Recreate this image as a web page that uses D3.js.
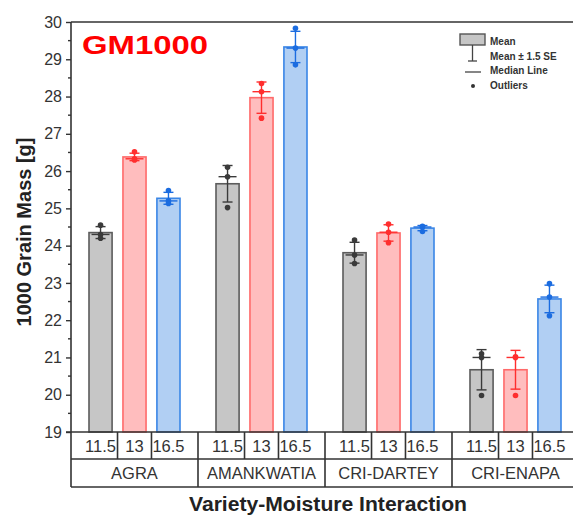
<!DOCTYPE html>
<html>
<head>
<meta charset="utf-8">
<script src="https://cdn.jsdelivr.net/npm/d3@7"></script>
<style>
  body { margin: 0; background: #fff; }
  svg { display: block; font-family: "Liberation Sans", Arial, sans-serif; }
</style>
</head>
<body>
<svg id="chart" width="573" height="517"></svg>
<script>
// data
const varieties = ["AGRA", "AMANKWATIA", "CRI-DARTEY", "CRI-ENAPA"];
const moistures = ["11.5", "13", "16.5"];
const meanValues = [24.35, 26.38, 25.27, 25.66, 27.97, 29.33, 23.81, 24.34, 24.47, 20.67, 20.67, 22.57];
const errValues = [0.16, 0.10, 0.16, 0.49, 0.42, 0.42, 0.28, 0.22, 0.07, 0.54, 0.52, 0.37]; // 1.5 SE
const medianValues = [24.30, 26.33, 25.20, 25.85, 28.13, 29.30, 23.75, 24.36, 24.50, 21.00, 21.00, 22.62];
const pointValues = [
  [24.55, 24.30, 24.20], [26.52, 26.33, 26.30], [25.48, 25.20, 25.13],
  [26.10, 25.85, 25.02], [28.35, 28.13, 27.42], [29.83, 29.30, 28.85],
  [24.15, 23.75, 23.52], [24.58, 24.36, 24.08], [24.52, 24.50, 24.38],
  [21.10, 21.00, 19.98], [21.02, 21.00, 19.98], [22.98, 22.62, 22.12]
];
const yTicks = [19, 20, 21, 22, 23, 24, 25, 26, 27, 28, 29, 30];

const fills = {"11.5": "#c6c6c6", "13": "#ffbdbe", "16.5": "#b1cff3"};
const strokes = {"11.5": "#5c5c5c", "13": "#ff6a6a", "16.5": "#3a86e6"};
const whisk = {"11.5": "#3a3a3a", "13": "#ff2e2e", "16.5": "#1b6ce0"};

const svg = d3.select("#chart");
const plotL = 71, plotR = 579, plotT = 22, plotB = 432;
const row1 = 459, row2 = 487;

const y = d3.scaleLinear().domain([19, 30]).range([plotB, plotT]);
const xGroup = d3.scaleBand().domain(varieties).range([plotL, plotR]).padding(0);
const xInner = d3.scaleBand().domain(moistures).range([0, xGroup.bandwidth()])
  .paddingInner(0.32).paddingOuter(0.53);

const rows = [];
varieties.forEach((v, gi) => moistures.forEach((m, mi) => {
  const k = gi * 3 + mi;
  rows.push({variety: v, moisture: m, mean: meanValues[k], err: errValues[k],
    median: medianValues[k], points: pointValues[k]});
}));
const cx = d => xGroup(d.variety) + xInner(d.moisture) + xInner.bandwidth() / 2;

// bars
svg.append("g").selectAll("rect").data(rows).enter().append("rect")
  .attr("x", d => xGroup(d.variety) + xInner(d.moisture))
  .attr("y", d => y(d.mean))
  .attr("width", xInner.bandwidth())
  .attr("height", d => y(19) - y(d.mean))
  .attr("fill", d => fills[d.moisture])
  .attr("stroke", d => strokes[d.moisture])
  .attr("stroke-width", 1.6);

// whiskers, caps, median, points
const eg = svg.append("g").selectAll("g").data(rows).enter().append("g")
  .attr("stroke", d => whisk[d.moisture]).attr("fill", d => whisk[d.moisture]);
eg.append("line")
  .attr("x1", cx).attr("x2", cx)
  .attr("y1", d => y(d.mean + d.err)).attr("y2", d => y(d.mean - d.err))
  .attr("stroke-width", 1.4);
[1, -1].forEach(s => {
  eg.append("line")
    .attr("x1", d => cx(d) - 5).attr("x2", d => cx(d) + 5)
    .attr("y1", d => y(d.mean + s * d.err)).attr("y2", d => y(d.mean + s * d.err))
    .attr("stroke-width", 1.4);
});
eg.append("line")
  .attr("x1", d => cx(d) - 9).attr("x2", d => cx(d) + 9)
  .attr("y1", d => y(d.median)).attr("y2", d => y(d.median))
  .attr("stroke-width", 1.4);
eg.selectAll("circle").data(d => d.points.map(p => ({p, d}))).enter().append("circle")
  .attr("cx", e => cx(e.d)).attr("cy", e => y(e.p)).attr("r", 2.8).attr("stroke", "none");

// y axis
const axisCol = "#333";
const yAxis = svg.append("g").attr("transform", `translate(${plotL},0)`)
  .call(d3.axisLeft(y).tickValues(yTicks).tickFormat(d3.format("d")).tickSize(5).tickPadding(4));
yAxis.select(".domain").remove();
yAxis.selectAll("line").attr("stroke", axisCol).attr("stroke-width", 1.4);
yAxis.selectAll("text").attr("font-size", 16).attr("fill", "#333");
const minor = d3.range(19.5, 30, 1);
svg.append("g").selectAll("line").data(minor).enter().append("line")
  .attr("x1", plotL - 3).attr("x2", plotL).attr("y1", d => y(d)).attr("y2", d => y(d))
  .attr("stroke", axisCol).attr("stroke-width", 1.4);

// frame
svg.append("line").attr("x1", plotL).attr("x2", plotL).attr("y1", plotT).attr("y2", row2)
  .attr("stroke", axisCol).attr("stroke-width", 1.6);
svg.append("line").attr("x1", plotL).attr("x2", plotR).attr("y1", plotT).attr("y2", plotT)
  .attr("stroke", axisCol).attr("stroke-width", 1.6);
[plotB, row1, row2].forEach(yy => {
  svg.append("line").attr("x1", plotL - (yy === plotB ? 5 : 0)).attr("x2", plotR)
    .attr("y1", yy).attr("y2", yy).attr("stroke", axisCol).attr("stroke-width", 1.6);
});

// table cells
const step = xInner.step();
varieties.forEach(v => {
  svg.append("line").attr("x1", xGroup(v) + xGroup.bandwidth()).attr("x2", xGroup(v) + xGroup.bandwidth())
    .attr("y1", plotB).attr("y2", row2).attr("stroke", axisCol).attr("stroke-width", 1.6);
  moistures.slice(1).forEach(m => {
    const xx = xGroup(v) + xInner(m) + xInner.bandwidth() / 2 - step / 2;
    svg.append("line").attr("x1", xx).attr("x2", xx).attr("y1", plotB).attr("y2", row1)
      .attr("stroke", axisCol).attr("stroke-width", 1.6);
  });
});
svg.append("g").selectAll("text").data(rows).enter().append("text")
  .attr("x", cx).attr("y", 452).attr("text-anchor", "middle")
  .attr("font-size", 16.5).attr("fill", "#333").text(d => d.moisture);
svg.append("g").selectAll("text").data(varieties).enter().append("text")
  .attr("x", d => xGroup(d) + xGroup.bandwidth() / 2).attr("y", 479).attr("text-anchor", "middle")
  .attr("font-size", 16.5).attr("fill", "#333").text(d => d);

// titles
svg.append("text").attr("x", 82).attr("y", 54).attr("font-size", 26).attr("font-weight", "bold")
  .attr("fill", "#ff0000").attr("textLength", 126).attr("lengthAdjust", "spacingAndGlyphs").text("GM1000");
svg.append("text").attr("x", 189).attr("y", 511).attr("font-size", 20).attr("font-weight", "bold")
  .attr("fill", "#222").attr("textLength", 278).attr("lengthAdjust", "spacingAndGlyphs")
  .text("Variety-Moisture Interaction");
svg.append("text").attr("transform", "translate(31,232) rotate(-90)").attr("text-anchor", "middle")
  .attr("font-size", 20).attr("font-weight", "bold").attr("fill", "#222")
  .text("1000 Grain Mass [g]");

// legend
const lg = svg.append("g");
lg.append("rect").attr("x", 460).attr("y", 34).attr("width", 25).attr("height", 11)
  .attr("fill", "#c6c6c6").attr("stroke", "#555").attr("stroke-width", 1.4);
lg.append("line").attr("x1", 472.5).attr("x2", 472.5).attr("y1", 45).attr("y2", 61).attr("stroke", "#444").attr("stroke-width", 1.3);
lg.append("line").attr("x1", 468).attr("x2", 477).attr("y1", 61).attr("y2", 61).attr("stroke", "#444").attr("stroke-width", 1.3);
lg.append("line").attr("x1", 465).attr("x2", 481).attr("y1", 72).attr("y2", 72).attr("stroke", "#444").attr("stroke-width", 1.3);
lg.append("circle").attr("cx", 473).attr("cy", 86).attr("r", 2).attr("fill", "#333");
const legendLabels = ["Mean", "Mean \u00b1 1.5 SE", "Median Line", "Outliers"];
lg.selectAll("text").data(legendLabels).enter().append("text")
  .attr("x", 490).attr("y", (d, i) => 45 + i * 14.5)
  .attr("font-size", 10).attr("font-weight", "bold").attr("fill", "#333").text(d => d);
</script>
</body>
</html>
